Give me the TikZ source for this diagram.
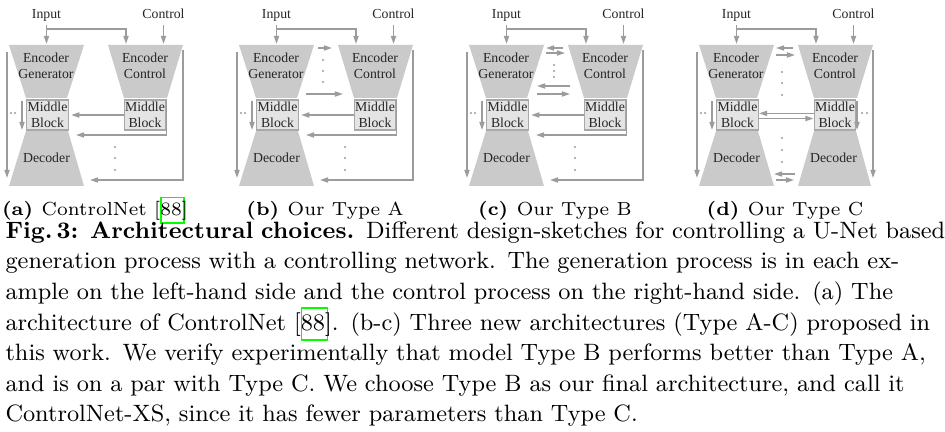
\documentclass[tikz,border=0pt]{standalone}
\usepackage{fontspec}
\newfontfamily\diafont{Liberation Serif}
\usetikzlibrary{arrows.meta,calc}
\definecolor{trapgray}{HTML}{CACACA}
\definecolor{boxgray}{HTML}{E4E4E4}
\definecolor{boxline}{HTML}{A8A8A8}
\definecolor{linegray}{HTML}{9C9C9C}
\definecolor{textgray}{HTML}{262626}
\newcommand{\citebox}[1]{\leavevmode\rlap{\textcolor{green}{\fboxsep=0pt\fboxrule=0.5pt\fbox{\phantom{\strut#1}}}}#1}
\newcommand{\capline}[1]{\makebox[\linewidth][s]{#1}}
\begin{document}
\begin{tikzpicture}[x=0.37pt,y=-0.37pt,
		flow/.style={draw=linegray,line width=0.55pt,-{Triangle[length=3pt,width=1.9pt]}},
		lbl/.style={font=\diafont\fontsize{5.1}{5.8}\selectfont,text=textgray,inner sep=1pt,align=center},
		io/.style={lbl,text depth=1.1pt,anchor=base},
		midblock/.style={lbl,draw=boxline,fill=boxgray,line width=0.4pt,inner sep=0.3pt,minimum width=15.5pt,minimum height=11.1pt},
		subcap/.style={font=\fontsize{7}{9}\selectfont,inner sep=0pt,anchor=base}]
	\useasboundingbox (0,0) rectangle (945,432);
	
	\foreach \p/\s/\t in {a/0/{ControlNet [\citebox{88}]},b/230/{Our Type A},c/460/{Our Type B},d/690/{Our Type C}}{
		\begin{scope}[shift={(\s,0)}]
			\node[io] (Input\p) at (46.5,19) {Input};
			\node[io] (Control\p) at (163.5,19) {Control};
			\coordinate (GenIn\p) at (46.5,44);
			\coordinate (CtrlIn\p) at (126,44);
			% generator
			\fill[trapgray] (9,45) -- (84,45) -- (67,98) -- (26,98) -- cycle;
			\fill[trapgray] (26,131) -- (68,131) -- (84,186) -- (9,186) -- cycle;
			\node[lbl] (EncGen\p) at (46,66) {Encoder\\Generator};
			\node[midblock] (MidGen\p) at (47.5,115) {Middle\\Block};
			\node[lbl,anchor=base] (DecGen\p) at (46.5,163) {Decoder};
			% control
			\fill[trapgray] (108,45) -- (183,45) -- (167,98) -- (124,98) -- cycle;
			\node[lbl] (EncCtrl\p) at (145,66) {Encoder\\Control};
			\node[midblock] (MidCtrl\p) at (145,115) {Middle\\Block};
			
			\draw[flow] (Input\p.south) -- (GenIn\p);
			\draw[flow] ($(Input\p.south)+(0,4)$) -| (CtrlIn\p);
			\draw[flow] (Control\p.south) -- (Control\p.south |- CtrlIn\p);
			\draw[flow] (7,52) -- (7,178);
			\draw[flow] (22,101) -- (22,130);
			\fill[linegray] (11,113) circle (0.45pt) (15,113) circle (0.45pt);
			
			\node[subcap] (Sub\p) at (95,215) {\textbf{(\p)}\hspace{0.45em}\t};
		\end{scope}
	}
	
	% ControlNet, Type A and B
	\foreach \p/\s in {a/0,b/230,c/460}{
		\begin{scope}[shift={(\s,0)}]
			\draw[flow,shorten >=0.8pt] (MidCtrl\p.west) -- (MidGen\p.east);
			\draw[flow] (MidCtrl\p.north east) |- (76,135);
			\draw[flow] (183,50) |- (90,180);
			\foreach \y in {147,158,170} \fill[linegray] (115,\y) circle (0.45pt);
		\end{scope}
	}
	
	% Type A
	\begin{scope}[shift={(230,0)}]
		\draw[flow] (88,48) -- (102,48);
		\foreach \y in {60,71,82} \fill[linegray] (93,\y) circle (0.45pt);
		\draw[flow] (76,94) -- (113,94);
	\end{scope}
	
	% Type B
	\begin{scope}[shift={(460,0)}]
		\draw[flow] (103,48) -- (86,48);
		\draw[flow] (86,53) -- (105,53);
		\foreach \y in {65,71,77} \fill[linegray] (94,\y) circle (0.45pt);
		\draw[flow] (110,86) -- (77,86);
		\draw[flow] (77,94) -- (110,94);
	\end{scope}
	
	% Type C
	\begin{scope}[shift={(690,0)}]
		\fill[trapgray] (124,131) -- (166,131) -- (181,186) -- (108,186) -- cycle;
		\node[lbl,anchor=base] (DecCtrld) at (143.5,163) {Decoder};
		\draw[flow] (183,50) -- (183,178);
		\draw[flow] (167,101) -- (167,130);
		\fill[linegray] (172,113) circle (0.45pt) (177,113) circle (0.45pt);
		\draw[flow] (103,48) -- (86,48);
		\draw[flow] (86,55) -- (105,55);
		\foreach \y in {72,83,95} \fill[linegray] (92,\y) circle (0.45pt);
		\draw[flow] ([yshift=0.6pt]MidCtrld.west) -- ([yshift=0.6pt]MidGend.east);
		\draw[flow] ([yshift=-1.3pt]MidGend.east) -- ([yshift=-1.3pt]MidCtrld.west);
		\foreach \y in {138,150,162} \fill[linegray] (92,\y) circle (0.45pt);
		\draw[flow] (105,174) -- (84,174);
		\draw[flow] (86,180) -- (104,180);
	\end{scope}
	
	\node[anchor=base west,inner sep=0pt,text width=346.7pt,font=\fontsize{8.75}{11.31}\selectfont] (Caption) at (5,238.3) {%
		\capline{\textbf{Fig.\,3: Architectural choices.} Different design-sketches for controlling a U-Net based}\\
		\capline{generation process with a controlling network. The generation process is in each ex-}\\
		\capline{ample on the left-hand side and the control process on the right-hand side. (a) The}\\
		\capline{architecture of ControlNet [\citebox{88}]. (b-c) Three new architectures (Type A-C) proposed in}\\
		\capline{this work. We verify experimentally that model Type B performs better than Type A,}\\
		\capline{and is on a par with Type C. We choose Type B as our final architecture, and call it}\\
		ControlNet-XS, since it has fewer parameters than Type C.};
\end{tikzpicture}
\end{document}
